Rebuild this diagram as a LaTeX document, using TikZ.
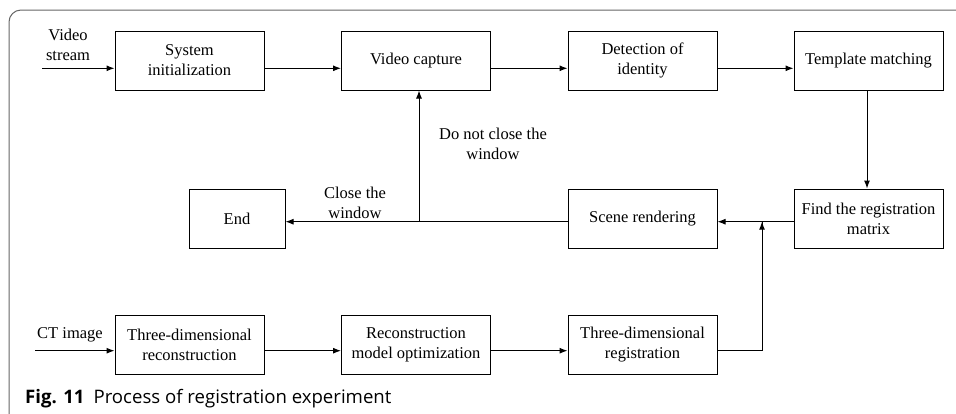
\documentclass[tikz,border=0pt]{standalone}
\usepackage{fontspec}
\setmainfont{Liberation Serif}
\newfontfamily\capfont{Open Sans}
\usetikzlibrary{arrows.meta}
\begin{document}
\begin{tikzpicture}[x=1pt,y=-1pt,
  box/.style={draw,line width=1pt,minimum width=149pt,minimum height=59pt,inner sep=0pt,align=center,font=\fontsize{16.5}{20}\selectfont},
  lbl/.style={align=center,inner sep=0pt,font=\fontsize{16.5}{20}\selectfont},
  arr/.style={line width=1pt,-{Latex[length=8pt,width=6pt]}},
  ln/.style={line width=1pt}]
\useasboundingbox (0,0) rectangle (956,413);
% frame
\draw[line width=1pt,gray!80!black,rounded corners=12pt] (9,420) -- (9,10) -- (970,10);
% nodes
\node[box] (sys) at (189.5,60.5) {System\\initialization};
\node[box] (cap) at (416,60.5) {Video capture};
\node[box] (det) at (642.5,60.5) {Detection of\\identity};
\node[box] (tpl) at (868.5,60.5) {Template matching};
\node[box] (find) at (868.5,218.5) {Find the registration\\matrix};
\node[box] (scene) at (642.5,218.5) {Scene rendering};
\node[box,minimum width=96pt] (end) at (237,218.5) {End};
\node[box] (rec) at (189.5,345) {Three-dimensional\\reconstruction};
\node[box] (opt) at (416,345) {Reconstruction\\model optimization};
\node[box] (reg) at (642.5,345) {Three-dimensional\\registration};
\node[lbl] (vs) at (68,45) {Video\\stream};
\node[lbl] (ct) at (70,335) {CT image};
\node[lbl] (close) at (355,203) {Close the\\window};
\node[lbl] (notclose) at (493,144) {Do not close the\\window};
\coordinate (vsin) at (42,68.3);
\coordinate (ctin) at (35,350.7);
\coordinate (jn) at (762,221.7);
\coordinate (sp) at (419,221.7);
% top row
\draw[arr] (vsin) -- (vsin -| sys.west);
\draw[arr] ([yshift=-7.8pt]sys.east) -- ([yshift=-7.8pt]cap.west);
\draw[arr] ([yshift=-7.8pt]cap.east) -- ([yshift=-7.8pt]det.west);
\draw[arr] ([yshift=-7.8pt]det.east) -- ([yshift=-7.8pt]tpl.west);
\draw[arr] ([xshift=-1.5pt]tpl.south) -- ([xshift=-1.5pt]find.north);
% middle row
\draw[arr] ([yshift=-3.2pt]find.west) -- ([yshift=-3.2pt]scene.east);
\draw[arr] ([yshift=-3.2pt]scene.west) -- ([yshift=-3.2pt]end.east);
\draw[arr] (sp) -- (sp |- cap.south);
% bottom row
\draw[ln] ([yshift=-5.7pt]reg.east) -| (jn);
\draw[arr] ([yshift=-5.7pt]reg.east -| jn) -- (jn);
\draw[arr] (ctin) -- (ctin -| rec.west);
\draw[arr] ([yshift=-5.7pt]rec.east) -- ([yshift=-5.7pt]opt.west);
\draw[arr] ([yshift=-5.7pt]opt.east) -- ([yshift=-5.7pt]reg.west);
% caption
\node[anchor=base west,inner sep=0pt,font=\capfont\fontsize{18.6}{22}\selectfont] (capt) at (25,403) {\textbf{Fig. 11}\hspace{9pt}Process of registration experiment};
\end{tikzpicture}
\end{document}
